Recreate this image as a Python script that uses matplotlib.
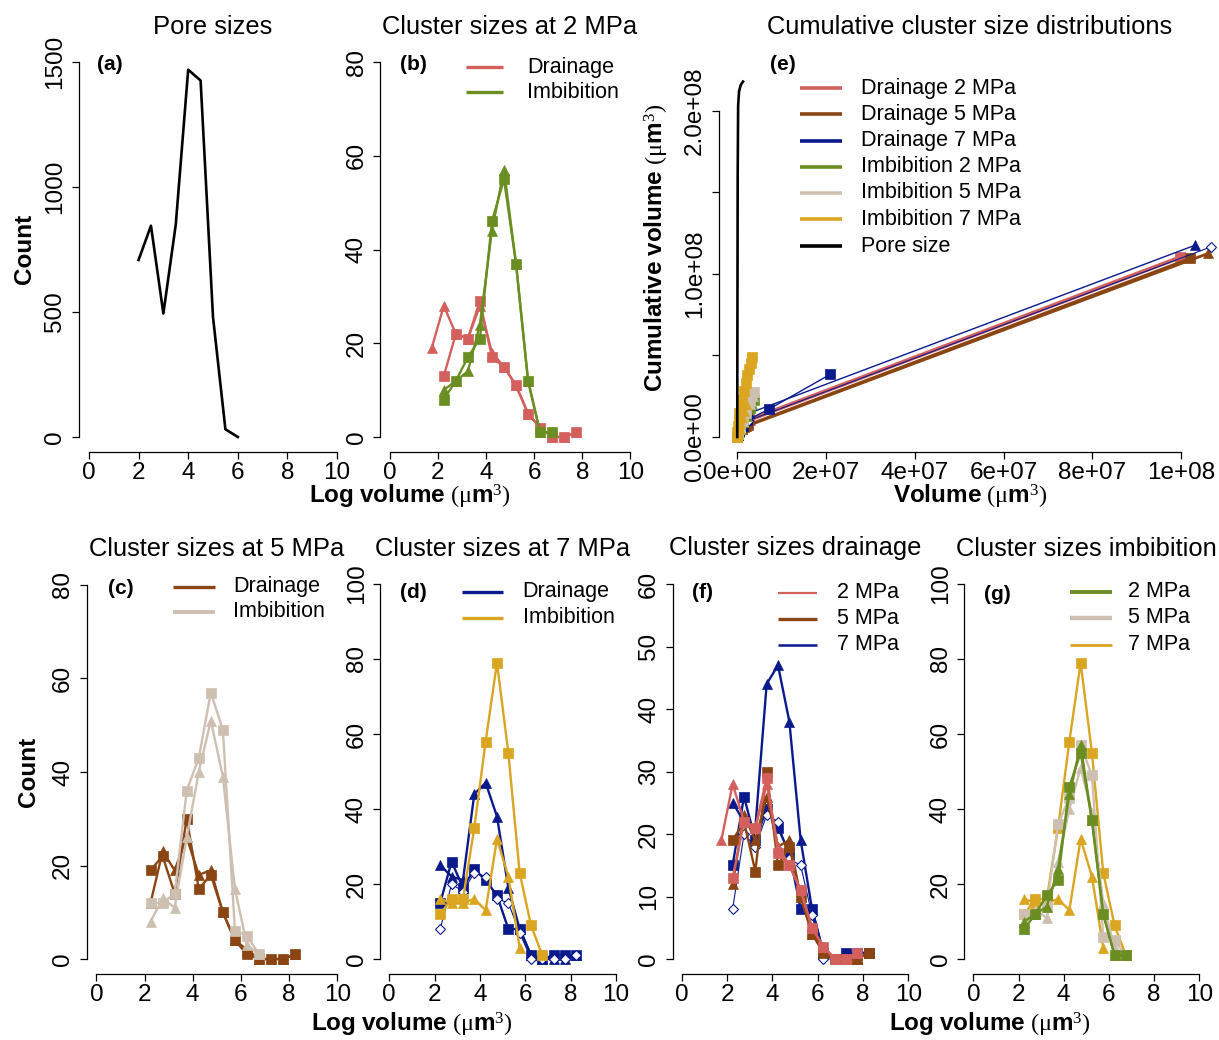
import matplotlib
matplotlib.use('Agg')
import matplotlib.pyplot as plt
from matplotlib.lines import Line2D

# ---------------- data ----------------
bin_centres = [1.75, 2.25, 2.75, 3.25, 3.75, 4.25, 4.75, 5.25, 5.75, 6.25, 6.75, 7.25, 7.75, 8.25]

pore_logvol = [2.0, 2.5, 3.0, 3.5, 4.0, 4.5, 5.0, 5.5, 6.0]
pore_count = [708, 845, 494, 850, 1469, 1426, 480, 31, 0]

# counts, (first bin index, values)
drain2_sq = (1, [13, 22, 21, 29, 17, 15, 11, 5, 2, 0, 0, 1])
drain2_tri = (0, [19, 28, 22, 21, 28, 18, 15, 11, 5, 2, 0, 0, 1])
imb2_sq = (1, [8, 12, 17, 21, 46, 55, 37, 12, 1, 1])
imb2_tri = (1, [10, 12, 14, 24, 44, 57, 37, 12, 1, 1])

drain5_sq = (1, [19, 22, 14, 30, 15, 18, 10, 4, 1, 0, 0, 0, 1])
drain5_tri = (1, [12, 23, 19, 26, 18, 19, 10, 4, 2, 0, 0, 0, 1])
imb5_sq = (1, [12, 12, 14, 36, 43, 57, 49, 6, 5, 1])
imb5_tri = (1, [8, 13, 11, 26, 40, 51, 39, 15, 3, 1])

drain7_sq = (1, [15, 26, 19, 24, 21, 17, 8, 8, 1, 0, 1, 1, 1])
drain7_tri = (1, [25, 22, 21, 44, 47, 38, 19, 8, 1, 0, 0, 0, 1])
drain7_dia = (1, [8, 20, 18, 23, 22, 16, 15, 7, 0, 0, 0, 0, 1])
imb7_sq = (1, [12, 16, 16, 35, 58, 79, 55, 23, 9, 1])
imb7_tri = (1, [16, 15, 15, 16, 13, 32, 22, 3])

# cumulative distributions (volume, cumulative volume), um^3
cum_d2_sq_x = [0, 1.5e5, 5e5, 1.1e6, 1.9e6, 2.6e6, 9.97e7]
cum_d2_sq_y = [0, 1.5e6, 4.0e6, 6.5e6, 8.5e6, 1.08e7, 1.105e8]
cum_d2_tri_x = [0, 1.5e5, 5e5, 1.1e6, 1.9e6, 2.8e6, 1.0e8]
cum_d2_tri_y = [0, 1.8e6, 4.5e6, 7.0e6, 9.0e6, 1.02e7, 1.10e8]
cum_d5_sq_x = [0, 1.5e5, 5e5, 1.0e6, 1.8e6, 2.5e6, 1.02e8]
cum_d5_sq_y = [0, 1.5e6, 3.5e6, 5.5e6, 7.0e6, 7.5e6, 1.095e8]
cum_d5_tri_x = [0, 1.5e5, 5e5, 1.0e6, 1.6e6, 2.0e6, 1.061e8]
cum_d5_tri_y = [0, 1.2e6, 3.0e6, 4.8e6, 6.0e6, 6.5e6, 1.126e8]
cum_d7_sq_x = [0, 1.5e5, 5e5, 1.2e6, 2.25e6, 7.1e6, 2.1e7]
cum_d7_sq_y = [0, 1.2e6, 3.5e6, 6.5e6, 1.03e7, 1.7e7, 3.85e7]
cum_d7_tri_x = [0, 1.5e5, 6e5, 1.3e6, 2.6e6, 1.031e8]
cum_d7_tri_y = [0, 2.0e6, 6.0e6, 1.05e7, 1.45e7, 1.176e8]
cum_d7_dia_x = [0, 1.5e5, 5e5, 1.2e6, 2.5e6, 1.068e8]
cum_d7_dia_y = [0, 1.0e6, 3.5e6, 6.5e6, 1.0e7, 1.167e8]
cum_i2_sq_x = [0, 2e5, 6e5, 1.2e6, 2.0e6, 2.8e6, 3.7e6]
cum_i2_sq_y = [0, 2e6, 5e6, 9e6, 1.35e7, 1.8e7, 2.25e7]
cum_i2_tri_x = [0, 2e5, 6e5, 1.2e6, 2.0e6, 2.7e6, 3.3e6]
cum_i2_tri_y = [0, 2e6, 5e6, 9e6, 1.3e7, 1.7e7, 2.05e7]
cum_i5_sq_x = [0, 2e5, 6e5, 1.2e6, 2.0e6, 2.8e6, 3.7e6]
cum_i5_sq_y = [0, 2.5e6, 6e6, 1.1e7, 1.6e7, 2.2e7, 2.76e7]
cum_i5_tri_x = [0, 2e5, 6e5, 1.2e6, 2.0e6, 2.8e6, 3.5e6]
cum_i5_tri_y = [0, 2e6, 5.5e6, 1.0e7, 1.5e7, 2.0e7, 2.5e7]
cum_i7_sq_x = [0, 5e4, 1.5e5, 3e5, 5e5, 8e5, 1.1e6, 1.5e6, 1.9e6, 2.3e6, 2.7e6, 3.0e6, 3.4e6]
cum_i7_sq_y = [0, 3e6, 7e6, 1.1e7, 1.5e7, 1.9e7, 2.3e7, 2.8e7, 3.3e7, 3.8e7, 4.2e7, 4.55e7, 4.9e7]
cum_i7_tri_x = [0, 1e5, 3e5, 6e5, 1.0e6, 1.5e6, 2.0e6]
cum_i7_tri_y = [0, 2e6, 5e6, 8e6, 1.2e7, 1.6e7, 2.0e7]
cum_pore_x = [0, 2e4, 6e4, 1e5, 2e5, 4e5, 8e5, 1.3e6]
cum_pore_y = [0, 4e7, 1.0e8, 1.6e8, 2.03e8, 2.12e8, 2.16e8, 2.18e8]

log_ticks = [0, 2, 4, 6, 8, 10]
e_xticks = [0, 2e7, 4e7, 6e7, 8e7, 1e8]
e_xticklabels = ['0e+00', '2e+07', '4e+07', '6e+07', '8e+07', '1e+08']
e_yticks = [0, 5e7, 1e8, 1.5e8, 2e8]
e_yticklabels = ['0.0e+00', '', '1.0e+08', '', '2.0e+08']

# ---------------- style ----------------
C_D2 = '#D4605E'
C_D5 = '#8B4513'
C_D7 = '#0A1A8C'
C_I2 = '#6B8E23'
C_I5 = '#CDC0B0'
C_I7 = '#DAA520'

W, H = 1219, 1040
plt.rcParams['font.family'] = ['Liberation Sans', 'DejaVu Sans']
plt.rcParams['mathtext.fontset'] = 'custom'
plt.rcParams['mathtext.rm'] = 'Liberation Serif'
plt.rcParams['mathtext.bf'] = 'Liberation Sans:bold'
plt.rcParams['mathtext.it'] = 'Liberation Serif:italic'
plt.rcParams['mathtext.sf'] = 'Liberation Sans'

fig = plt.figure(figsize=(W / 100, H / 100), dpi=100)


def fx(x):
    return x / W


def fy(y):
    return 1 - y / H


def add_ax(l, t, r, b):
    return fig.add_axes([l / W, 1 - b / H, (r - l) / W, (b - t) / H])


def style(ax, xlim, ylim, xticks, yticks, xtl=None, ytl=None):
    ax.set_xlim(*xlim)
    ax.set_ylim(*ylim)
    for s in ['top', 'right']:
        ax.spines[s].set_visible(False)
    ax.spines['left'].set_bounds(yticks[0], yticks[-1])
    ax.spines['bottom'].set_bounds(xticks[0], xticks[-1])
    for s in ['left', 'bottom']:
        ax.spines[s].set_linewidth(0.9)
    ax.set_xticks(xticks)
    ax.set_yticks(yticks)
    if xtl is not None:
        ax.set_xticklabels(xtl)
    if ytl is not None:
        ax.set_yticklabels(ytl)
    ax.tick_params(direction='out', length=5, width=0.9, labelsize=17.5, pad=2)
    ax.tick_params(axis='y', pad=4)
    plt.setp(ax.get_yticklabels(), rotation=90, va='center', ha='right',
             rotation_mode='default')
    ax.patch.set_visible(False)


def hist_style(ax, ymax, ystep):
    yt = list(range(0, ymax + 1, ystep))
    style(ax, (-0.4, 10.4), (-0.04 * ymax, 1.04 * ymax), log_ticks, yt)


def counts(ax, ser, color, marker, lw=1.7, ms=6.5, open_=False):
    start, vals = ser
    xs = bin_centres[start:start + len(vals)]
    if marker == '^':
        ms = ms + 1.2
    ax.plot(xs, vals, color=color, lw=lw, marker=marker, ms=ms,
            mfc='white' if open_ else color, mec=color,
            mew=0.8 if open_ else 0.5)


def cum(ax, xs, ys, color, marker, lw=1.7, ms=6.5, open_=False):
    if marker == '^':
        ms = ms + 1.2
    ax.plot(xs, ys, color=color, lw=lw, marker=marker, ms=ms,
            mfc='white' if open_ else color, mec=color,
            mew=0.8 if open_ else 0.5)


def legend(x0, x1, xt, ys, entries, fs=15.5):
    for y, (lab, col, lw) in zip(ys, entries):
        fig.add_artist(Line2D([fx(x0), fx(x1)], [fy(y), fy(y)], color=col, lw=lw,
                              transform=fig.transFigure, solid_capstyle='butt'))
        fig.text(fx(xt), fy(y), lab, fontsize=fs, ha='left', va='center')


def title(xc, yb, s):
    fig.text(fx(xc), fy(yb), s, fontsize=18.4, ha='center', va='baseline')


def tag(xc, yc, s):
    fig.text(fx(xc), fy(yc), s, fontsize=15, fontweight='bold', ha='center', va='center')


LOGLAB = r'$\mathbf{Log\ volume}\ (\mathrm{\mu}\mathbf{m}^{\mathrm{3}})$'
LABFS = 17.5

# ---------------- (a) pore sizes ----------------
ax_a = add_ax(79, 47, 347, 452)
style(ax_a, (-0.4, 10.4), (-60, 1560), log_ticks, [0, 500, 1000, 1500])
ax_a.plot(pore_logvol, pore_count, color='black', lw=1.9)
title(213, 34, 'Pore sizes')
tag(110, 64, '(a)')
fig.text(fx(24), fy(249), 'Count', fontsize=LABFS, fontweight='bold', rotation=90,
         ha='center', va='center')

# ---------------- (b) 2 MPa ----------------
ax_b = add_ax(380, 47, 640, 452)
hist_style(ax_b, 80, 20)
counts(ax_b, drain2_sq, C_D2, 's')
counts(ax_b, drain2_tri, C_D2, '^')
counts(ax_b, imb2_sq, C_I2, 's')
counts(ax_b, imb2_tri, C_I2, '^')
title(510, 34, 'Cluster sizes at 2 MPa')
tag(413, 65, '(b)')
legend(466, 503, 527, [67, 92], [('Drainage', C_D2, 2.4), ('Imbibition', C_I2, 2.4)])
fig.text(fx(410), fy(497), LOGLAB, fontsize=LABFS, ha='center', va='center')

# ---------------- (e) cumulative ----------------
ax_e = add_ax(718.6, 47, 1222, 452)
style(ax_e, (-4.2e6, 1.092e8), (-9.2e6, 2.392e8), e_xticks, e_yticks, e_xticklabels, e_yticklabels)
cum(ax_e, cum_d2_sq_x, cum_d2_sq_y, C_D2, 's', lw=2.0)
cum(ax_e, cum_d2_tri_x, cum_d2_tri_y, C_D2, '^', lw=2.0)
cum(ax_e, cum_d5_sq_x, cum_d5_sq_y, C_D5, 's', lw=2.0)
cum(ax_e, cum_d5_tri_x, cum_d5_tri_y, C_D5, '^', lw=2.0)
cum(ax_e, cum_d7_sq_x, cum_d7_sq_y, C_D7, 's', lw=1.0)
cum(ax_e, cum_d7_tri_x, cum_d7_tri_y, C_D7, '^', lw=1.0)
cum(ax_e, cum_d7_dia_x, cum_d7_dia_y, C_D7, 'D', lw=0.8, ms=5.5, open_=True)
cum(ax_e, cum_i2_sq_x, cum_i2_sq_y, C_I2, 's')
cum(ax_e, cum_i2_tri_x, cum_i2_tri_y, C_I2, '^')
cum(ax_e, cum_i5_sq_x, cum_i5_sq_y, C_I5, 's')
cum(ax_e, cum_i5_tri_x, cum_i5_tri_y, C_I5, '^')
cum(ax_e, cum_i7_sq_x, cum_i7_sq_y, C_I7, 's')
cum(ax_e, cum_i7_tri_x, cum_i7_tri_y, C_I7, '^')
ax_e.plot(cum_pore_x, cum_pore_y, color='black', lw=1.9)
title(970, 34, 'Cumulative cluster size distributions')
tag(783, 64, '(e)')
legend(800, 842, 861, [88.3, 114.5, 140.7, 166.8, 193, 219.3, 246],
       [('Drainage 2 MPa', C_D2, 2.6), ('Drainage 5 MPa', C_D5, 2.6),
        ('Drainage 7 MPa', C_D7, 2.6), ('Imbibition 2 MPa', C_I2, 2.6),
        ('Imbibition 5 MPa', C_I5, 2.6), ('Imbibition 7 MPa', C_I7, 2.6),
        ('Pore size', 'black', 2.6)])
fig.text(fx(970), fy(497), r'$\mathbf{Volume}\ (\mathrm{\mu}\mathbf{m}^{\mathrm{3}})$',
         fontsize=LABFS, ha='center', va='center')
fig.text(fx(657), fy(248), r'$\mathbf{Cumulative\ volume}\ (\mathrm{\mu}\mathbf{m}^{\mathrm{3}})$',
         fontsize=LABFS, ha='center', va='center', rotation=90)

# ---------------- (c) 5 MPa ----------------
ax_c = add_ax(86.7, 570, 347, 974)
hist_style(ax_c, 80, 20)
counts(ax_c, drain5_sq, C_D5, 's')
counts(ax_c, drain5_tri, C_D5, '^')
counts(ax_c, imb5_sq, C_I5, 's')
counts(ax_c, imb5_tri, C_I5, '^')
title(217, 556, 'Cluster sizes at 5 MPa')
tag(121, 589, '(c)')
legend(173, 215, 233, [586.7, 611.7], [('Drainage', C_D5, 2.4), ('Imbibition', C_I5, 2.8)])
fig.text(fx(28), fy(772), 'Count', fontsize=LABFS, fontweight='bold', rotation=90,
         ha='center', va='center')

# ---------------- (d) 7 MPa ----------------
ax_d = add_ax(380.2, 569, 625.1, 974)
hist_style(ax_d, 100, 20)
counts(ax_d, drain7_sq, C_D7, 's')
counts(ax_d, drain7_tri, C_D7, '^')
counts(ax_d, drain7_dia, C_D7, 'D', lw=0.8, ms=5.5, open_=True)
counts(ax_d, imb7_sq, C_I7, 's')
counts(ax_d, imb7_tri, C_I7, '^')
title(502.5, 556, 'Cluster sizes at 7 MPa')
tag(413, 592.5, '(d)')
legend(461.7, 503.3, 522.7, [591.7, 617.7], [('Drainage', C_D7, 2.4), ('Imbibition', C_I7, 2.4)])
fig.text(fx(412), fy(1025), LOGLAB, fontsize=LABFS, ha='center', va='center')

# ---------------- (f) drainage ----------------
ax_f = add_ax(672.6, 569, 917.4, 974)
hist_style(ax_f, 60, 10)
counts(ax_f, drain7_sq, C_D7, 's')
counts(ax_f, drain7_tri, C_D7, '^')
counts(ax_f, drain7_dia, C_D7, 'D', lw=0.8, ms=5.5, open_=True)
counts(ax_f, drain5_sq, C_D5, 's')
counts(ax_f, drain5_tri, C_D5, '^')
counts(ax_f, drain2_sq, C_D2, 's')
counts(ax_f, drain2_tri, C_D2, '^')
title(795, 555, 'Cluster sizes drainage')
tag(702.5, 592, '(f)')
legend(778.3, 816.7, 836.7, [592.7, 619, 644.5],
       [('2 MPa', C_D2, 1.6), ('5 MPa', C_D5, 2.4), ('7 MPa', C_D7, 1.8)])

# ---------------- (g) imbibition ----------------
ax_g = add_ax(964.3, 569, 1208.3, 974)
hist_style(ax_g, 100, 20)
counts(ax_g, imb7_sq, C_I7, 's')
counts(ax_g, imb7_tri, C_I7, '^')
counts(ax_g, imb5_sq, C_I5, 's')
counts(ax_g, imb5_tri, C_I5, '^')
counts(ax_g, imb2_sq, C_I2, 's')
counts(ax_g, imb2_tri, C_I2, '^')
title(1086.5, 556, 'Cluster sizes imbibition')
tag(997.5, 594, '(g)')
legend(1070, 1111.7, 1128.3, [591.7, 617.7, 644.5],
       [('2 MPa', C_I2, 2.8), ('5 MPa', C_I5, 3.2), ('7 MPa', C_I7, 2.0)])
fig.text(fx(990), fy(1025), LOGLAB, fontsize=LABFS, ha='center', va='center')

fig.savefig('out.png', dpi=100)
